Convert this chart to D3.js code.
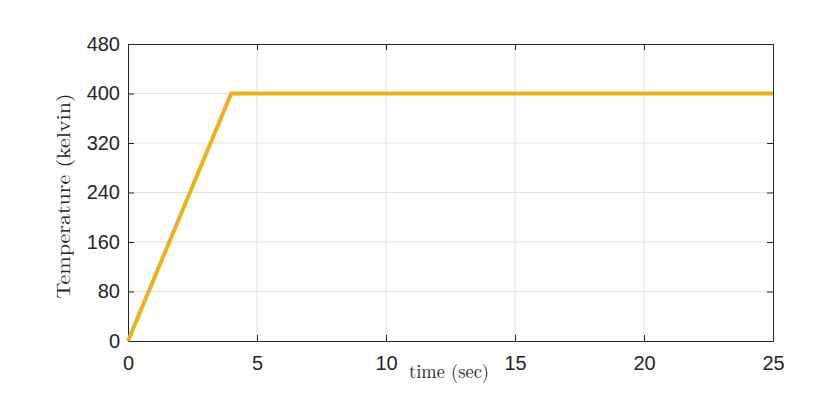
<!DOCTYPE html>
<html><head><meta charset="utf-8">
<script src="https://cdn.jsdelivr.net/npm/d3@7"></script>
<style>body{margin:0;background:#fff}svg{display:block}</style>
</head><body>
<svg id="c" width="831" height="408"></svg>
<script>
const timeSec = [0, 4, 25];
const tempKelvin = [0, 400, 400];
const xTicks = [0, 5, 10, 15, 20, 25];
const yTicks = [0, 80, 160, 240, 320, 400, 480];
const xLabel = "time (sec)";
const yLabel = "Temperature (kelvin)";

const svg = d3.select("#c");
const L = 128, R = 773, T = 44, B = 341;
const x = d3.scaleLinear().domain([0, 25]).range([L, R]);
const y = d3.scaleLinear().domain([0, 480]).range([B, T]);
const axCol = "#262626";

// grid
svg.append("g").selectAll("line").data(xTicks.slice(1, -1)).join("line")
  .attr("x1", d => x(d)).attr("x2", d => x(d)).attr("y1", T).attr("y2", B)
  .attr("stroke", "#e3e3e3").attr("stroke-width", 1);
svg.append("g").selectAll("line").data(yTicks.slice(1, -1)).join("line")
  .attr("y1", d => y(d)).attr("y2", d => y(d)).attr("x1", L).attr("x2", R)
  .attr("stroke", "#e3e3e3").attr("stroke-width", 1);

// axes
const font = "'Liberation Sans', Arial, Helvetica, sans-serif";
const ax = (g) => { g.select(".domain").attr("stroke", axCol); g.selectAll(".tick line").attr("stroke", axCol); g.selectAll("text").attr("fill", axCol).style("font-family", font).style("font-size", "20px"); };
svg.append("g").attr("transform", `translate(0,${B})`)
  .call(d3.axisBottom(x).tickValues(xTicks).tickSize(-6).tickSizeOuter(0).tickPadding(15)).call(ax);
svg.append("g").attr("transform", `translate(0,${T})`)
  .call(d3.axisTop(x).tickValues(xTicks).tickSize(-6).tickSizeOuter(0).tickFormat("")).call(ax);
svg.append("g").attr("transform", `translate(${L},0)`)
  .call(d3.axisLeft(y).tickValues(yTicks).tickSize(-6).tickSizeOuter(0).tickPadding(8)).call(ax);
svg.append("g").attr("transform", `translate(${R},0)`)
  .call(d3.axisRight(y).tickValues(yTicks).tickSize(-6).tickSizeOuter(0).tickFormat("")).call(ax);

// line
const pts = timeSec.map((t, i) => [t, tempKelvin[i]]);
svg.append("path").datum(pts)
  .attr("d", d3.line().x(d => x(d[0])).y(d => y(d[1])))
  .attr("fill", "none").attr("stroke", "#EDB120").attr("stroke-width", 4)
  .attr("stroke-linejoin", "miter");

// labels
const serif = "'Latin Modern Roman','CMU Serif','Liberation Serif','DejaVu Serif',serif";
svg.append("text").attr("x", 449).attr("y", 378).attr("text-anchor", "middle")
  .attr("textLength", 80).attr("lengthAdjust", "spacingAndGlyphs")
  .style("font-family", serif).style("font-size", "19px").attr("fill", axCol).text(xLabel);
svg.append("text").attr("transform", `translate(70,196) rotate(-90)`).attr("text-anchor", "middle")
  .attr("textLength", 205).attr("lengthAdjust", "spacingAndGlyphs")
  .style("font-family", serif).style("font-size", "19px").attr("fill", axCol).text(yLabel);
</script>
</body></html>
